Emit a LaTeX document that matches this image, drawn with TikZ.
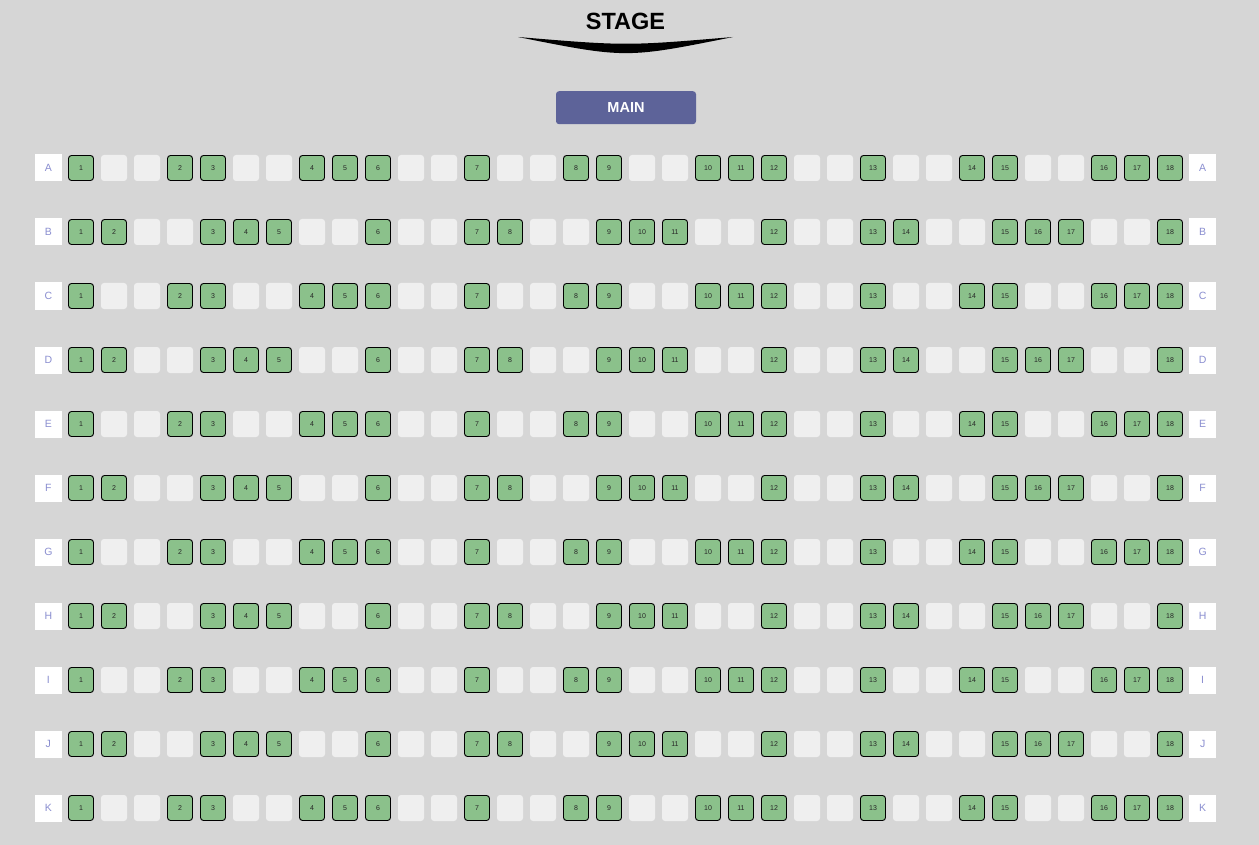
\documentclass[tikz,border=0pt]{standalone}
\usepackage{fontspec}
\setmainfont{Liberation Sans}
\usetikzlibrary{positioning}
\definecolor{Backdrop}{HTML}{D6D6D6}
\definecolor{SeatGreen}{HTML}{8BC18B}
\definecolor{GapGrey}{HTML}{EFEFEF}
\definecolor{MainBlue}{HTML}{5D6399}
\definecolor{RowInk}{HTML}{8A8ED0}
% seat plans: seat number, 0 = empty place
\newcommand{\oddplan}{1,0,0,2,3,0,0,4,5,6,0,0,7,0,0,8,9,0,0,10,11,12,0,0,13,0,0,14,15,0,0,16,17,18}
\newcommand{\evenplan}{1,2,0,0,3,4,5,0,0,6,0,0,7,8,0,0,9,10,11,0,0,12,0,0,13,14,0,0,15,16,17,0,0,18}
\tikzset{
    % booked seat
    seatbox/.style={
        rectangle,
        draw=black,
        fill=SeatGreen,
        line width=0.9pt,
        rounded corners=3pt,
        minimum width=25pt,
        minimum height=25pt,
        inner sep=0pt,
        text=black!85,
        font=\fontsize{7}{8}\selectfont
    },
    % empty place
    gapbox/.style={
        rectangle,
        fill=GapGrey,
        rounded corners=3pt,
        minimum width=26pt,
        minimum height=26pt,
        inner sep=0pt
    },
    % row letter
    rowbox/.style={
        rectangle,
        fill=white,
        minimum width=27pt,
        minimum height=27pt,
        inner sep=0pt,
        text=RowInk,
        font=\fontsize{10.5}{12}\selectfont
    },
    mainbox/.style={
        rectangle,
        fill=MainBlue,
        rounded corners=3pt,
        minimum width=140pt,
        minimum height=33pt,
        inner sep=0pt,
        text=white,
        font=\bfseries\fontsize{14.5}{16}\selectfont
    }
}
\begin{document}
\begin{tikzpicture}[x=1pt, y=-1pt]
    % Background
    \fill[Backdrop] (0,0) rectangle (1259,845);
    \useasboundingbox (0,0) rectangle (1259,845);

    % Stage
    \node[font=\bfseries\fontsize{23.5}{26}\selectfont] (stage) at (625.5,21) {STAGE};
    \fill[black] (518,37) .. controls (626,58.5) .. (733,37)
        .. controls (626,46) .. (518,37) -- cycle;

    % Section button
    \node[mainbox] (main) at (626,107.7) {MAIN};

    % Rows
    \foreach \r [count=\i from 0] in {A,B,C,D,E,F,G,H,I,J,K}{
        \ifodd\i\relax \let\rowplan\evenplan \else \let\rowplan\oddplan \fi
        \foreach \s [count=\c from 0] in \rowplan {
            \ifnum\s>0\relax
                \node[seatbox] (seat-\r-\c) at ({81+33*\c},{168+64*\i}) {\s};
            \else
                \node[gapbox] (seat-\r-\c) at ({81+33*\c},{168+64*\i}) {};
            \fi
        }
        \node[rowbox, left=6pt of seat-\r-0] (row-\r-L) {\r};
        \node[rowbox, right=6pt of seat-\r-33] (row-\r-R) {\r};
    }
\end{tikzpicture}
\end{document}
